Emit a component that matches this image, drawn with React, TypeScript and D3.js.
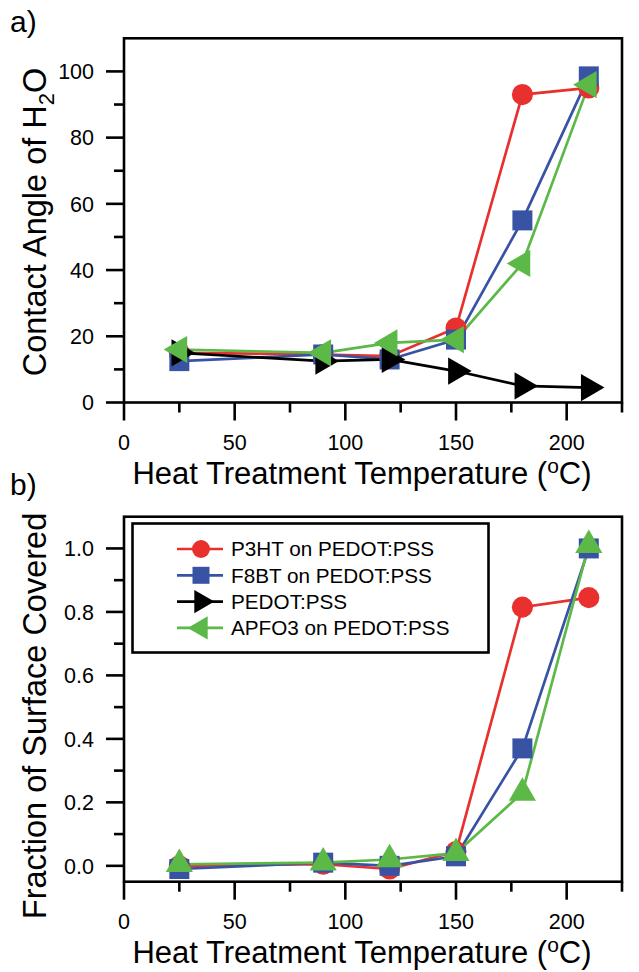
import React from 'react';
import * as d3 from 'd3';

const W = 639;
const H = 972;

// heat treatment temperatures (deg C)
const temps = [25, 90, 120, 150, 180, 210];

// panel a: contact angle of water (deg)
const angleP3HT = [15, 14.5, 14, 22.5, 93, 95];
const angleF8BT = [12.5, 14.5, 13, 19, 55, 98.5];
const anglePEDOT = [15, 12.5, 13, 9.5, 5, 4.5];
const angleAPFO3 = [16, 15, 18, 19, 42, 96];

// panel b: fraction of surface covered
const fracP3HT = [0.0, 0.005, -0.01, 0.045, 0.815, 0.845];
const fracF8BT = [-0.01, 0.01, 0.0, 0.03, 0.37, 1.0];
const fracAPFO3 = [0.005, 0.01, 0.02, 0.04, 0.23, 1.01];

const legendNames = ['P3HT on PEDOT:PSS', 'F8BT on PEDOT:PSS', 'PEDOT:PSS', 'APFO3 on PEDOT:PSS'];

const xTicks = [0, 50, 100, 150, 200];
const xMinor = [25, 75, 125, 175, 225];
const angleTicks = [0, 20, 40, 60, 80, 100];
const angleMinor = [10, 30, 50, 70, 90];
const fracTicks = [0, 0.2, 0.4, 0.6, 0.8, 1.0];
const fracMinor = [0.1, 0.3, 0.5, 0.7, 0.9];

const RED = '#e8312f';
const BLUE = '#3953a4';
const GREEN = '#5cb947';
const BLACK = '#000';
const FONT = '"Liberation Sans", Arial, Helvetica, sans-serif';

const xScale = d3.scaleLinear().domain([0, 225]).range([124, 622]);

const Marker = ({ kind, x, y, color, k = 1 }) => {
  let d;
  let rot = 0;
  if (kind === 'circle') d = d3.symbol(d3.symbolCircle, 350 * k * k)();
  else if (kind === 'square') d = d3.symbol(d3.symbolSquare, 400 * k * k)();
  else {
    d = d3.symbol(d3.symbolTriangle, 320 * k * k)();
    if (kind === 'right') rot = 90;
    if (kind === 'left') rot = -90;
  }
  return <path d={d} fill={color} transform={`translate(${x},${y}) rotate(${rot})`} />;
};

const Panel = ({ yScale, ticks, minor, fmt, series, title, letter, letterY }) => {
  const [x0, x1] = xScale.range();
  const [yb, yt] = yScale.range();
  const line = d3.line().x((d) => xScale(d[0])).y((d) => yScale(d[1]));
  const ymid = title.mid;
  return (
    <g>
      <text x={10} y={letterY} fontSize={30} fontFamily={FONT}>{letter}</text>
      {/* frame */}
      <rect x={x0} y={yt} width={x1 - x0} height={yb - yt} fill="none" stroke="#000" strokeWidth={2.6} />
      {/* x ticks */}
      {xTicks.map((t) => (
        <g key={'x' + t}>
          <line x1={xScale(t)} x2={xScale(t)} y1={yb} y2={yb + 18} stroke="#000" strokeWidth={2.6} />
          <text x={xScale(t)} y={yb + 47} textAnchor="middle" fontSize={21.5} fontFamily={FONT}>{t}</text>
        </g>
      ))}
      {xMinor.map((t) => (
        <line key={'xm' + t} x1={xScale(t)} x2={xScale(t)} y1={yb} y2={yb + 10} stroke="#000" strokeWidth={2.6} />
      ))}
      {/* y ticks */}
      {ticks.map((t) => (
        <g key={'y' + t}>
          <line x1={x0 - 18} x2={x0} y1={yScale(t)} y2={yScale(t)} stroke="#000" strokeWidth={2.6} />
          <text x={x0 - 30} y={yScale(t)} dy="0.36em" textAnchor="end" fontSize={21.5} fontFamily={FONT}>{fmt(t)}</text>
        </g>
      ))}
      {minor.map((t) => (
        <line key={'ym' + t} x1={x0 - 10} x2={x0} y1={yScale(t)} y2={yScale(t)} stroke="#000" strokeWidth={2.6} />
      ))}
      {/* series */}
      {series.map((s) => (
        <path key={s.name + 'l'} d={line(temps.map((t, i) => [t, s.values[i]]))} fill="none" stroke={s.color} strokeWidth={2.7} />
      ))}
      {series.map((s) => (
        <g key={s.name + 'm'}>
          {temps.map((t, i) => (
            <Marker key={t} kind={s.kind} x={xScale(t)} y={yScale(s.values[i])} color={s.color} />
          ))}
        </g>
      ))}
      {/* axis titles */}
      <text x={362} y={yb + 81} textAnchor="middle" fontSize={31} fontFamily={FONT}>
        Heat Treatment Temperature (<tspan fontSize={21} dy={-11}>o</tspan><tspan dy={11}>C)</tspan>
      </text>
      <text transform={`translate(46,${ymid}) rotate(-90)`} textAnchor="middle" fontSize={32.5} fontFamily={FONT}>
        {title.parts}
      </text>
    </g>
  );
};

export default function App() {
  const yA = d3.scaleLinear().domain([0, 110]).range([402.5, 38.3]);
  const yB = d3.scaleLinear().domain([-0.05, 1.1]).range([881.7, 516.7]);

  const seriesA = [
    { name: legendNames[0], values: angleP3HT, color: RED, kind: 'circle' },
    { name: legendNames[1], values: angleF8BT, color: BLUE, kind: 'square' },
    { name: legendNames[2], values: anglePEDOT, color: BLACK, kind: 'right' },
    { name: legendNames[3], values: angleAPFO3, color: GREEN, kind: 'left' },
  ];
  const seriesB = [
    { name: legendNames[0], values: fracP3HT, color: RED, kind: 'circle' },
    { name: legendNames[1], values: fracF8BT, color: BLUE, kind: 'square' },
    { name: legendNames[3], values: fracAPFO3, color: GREEN, kind: 'up' },
  ];
  const legendItems = [
    { name: legendNames[0], color: RED, kind: 'circle' },
    { name: legendNames[1], color: BLUE, kind: 'square' },
    { name: legendNames[2], color: BLACK, kind: 'right' },
    { name: legendNames[3], color: GREEN, kind: 'left' },
  ];

  return (
    <svg width={W} height={H} style={{ position: 'absolute', left: 0, top: 0, background: '#fff' }}>
      <rect width={W} height={H} fill="#fff" />
      <Panel
        yScale={yA}
        ticks={angleTicks}
        minor={angleMinor}
        fmt={(t) => String(t)}
        series={seriesA}
        letter="a)"
        letterY={32}
        title={{
          mid: 222,
          parts: (
            <>
              Contact Angle of H<tspan fontSize={22} dy={8}>2</tspan><tspan dy={-8}>O</tspan>
            </>
          ),
        }}
      />
      <Panel
        yScale={yB}
        ticks={fracTicks}
        minor={fracMinor}
        fmt={(t) => t.toFixed(1)}
        series={seriesB}
        letter="b)"
        letterY={495}
        title={{ mid: 716, parts: 'Fraction of Surface Covered' }}
      />
      {/* legend */}
      <rect x={132.5} y={523.5} width={356} height={129} fill="#fff" stroke="#000" strokeWidth={2.6} />
      {legendItems.map((it, i) => {
        const y = 549 + i * 26.3;
        return (
          <g key={it.name}>
            <line x1={177} x2={223} y1={y} y2={y} stroke={it.color} strokeWidth={2.7} />
            <Marker kind={it.kind} x={201} y={y} color={it.color} k={0.85} />
            <text x={231} y={y} dy="0.36em" fontSize={20.7} fontFamily={FONT}>{it.name}</text>
          </g>
        );
      })}
    </svg>
  );
}
